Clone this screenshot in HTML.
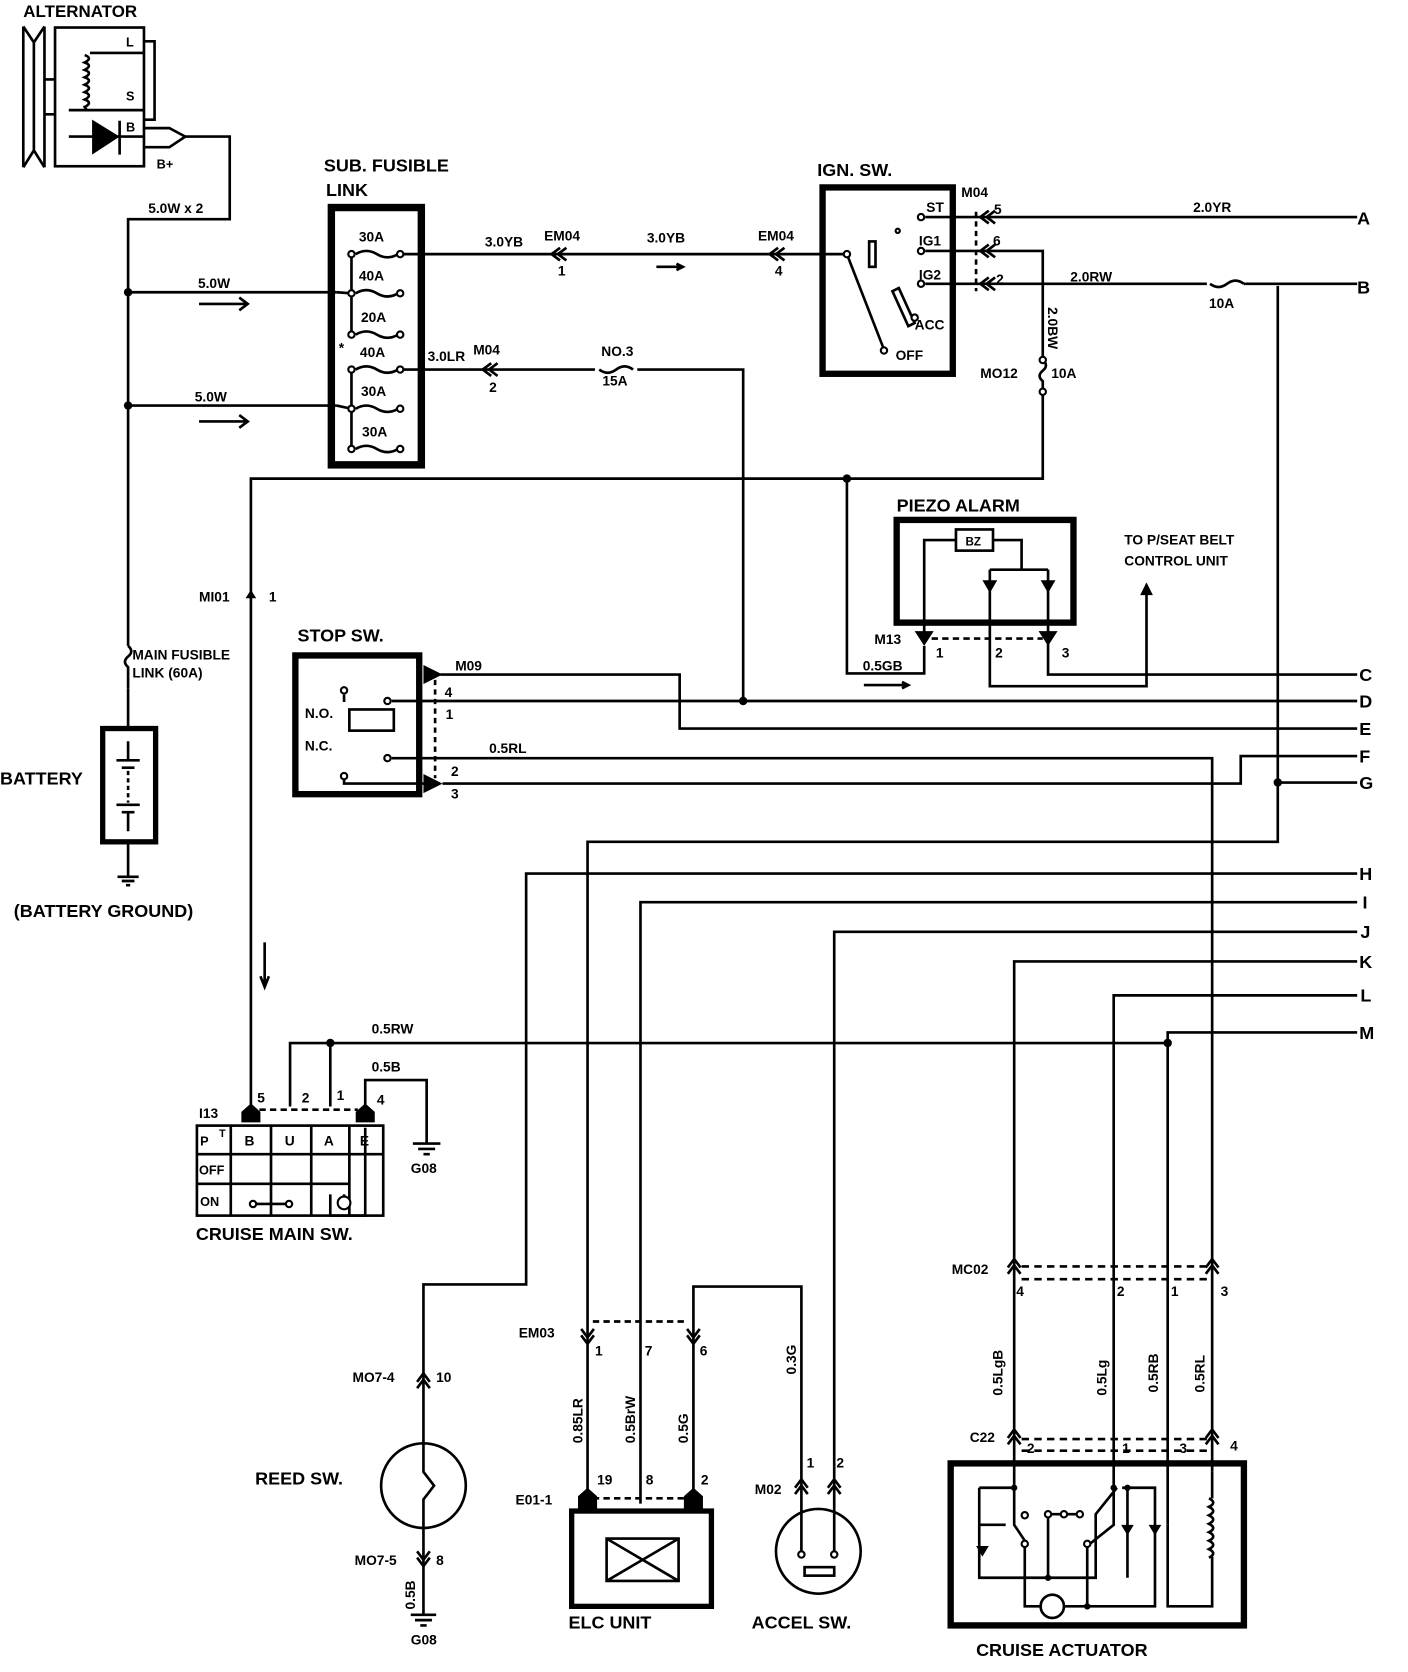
<!DOCTYPE html>
<html><head><meta charset="utf-8"><style>
html,body{margin:0;padding:0;background:#fff;}
svg{display:block;}
text{font-family:"Liberation Sans",sans-serif;font-weight:bold;fill:#000;}
</style></head><body>
<svg width="1408" height="1672" viewBox="0 0 1330 1579" preserveAspectRatio="none" xmlns="http://www.w3.org/2000/svg">
<g fill="none" stroke="#000" stroke-width="2.5">
<path d="M22 25 L22 158 M22 25 L32 40 L32 142 L22 158 M42 25 L32 40 M32 142 L42 158 M42 25 L42 158"/>
<path d="M42 75 L52 75 M42 108 L52 108"/>
<rect x="52" y="26" width="84" height="131"/>
<path d="M136 39 L146 39 L146 113 L136 113"/>
<path d="M85 50 L136 50 M65 104 L136 104"/>
<path d="M80 52 q8 3 0 7 q8 3 0 7 q8 3 0 7 q8 3 0 7 q8 3 0 7 q8 3 0 7 q8 3 0 7 L82 104"/>
<path d="M65 129 L136 129 M113 114 L113 146"/>
<path d="M137 121 L160 121 L175 129 L160 139 L137 139"/>
<path d="M175 129 L217 129 L217 207 L121 207 L121 610 M121 650 L121 688"/>
<path d="M121 610 q6 5 0 10 q-6 5 0 10 L121 650"/>
<path d="M121 276 L318 276 M121 383 L318 383"/>
<path d="M188 287 L234 287 M226 281 L234 287 L226 293 M188 398 L234 398 M226 392 L234 398 L226 404"/>
<rect x="313" y="196" width="85" height="243" stroke-width="7"/>
<path d="M332 240 L332 316 M332 349 L332 424"/>
<path d="M336 240 q10 -6 20 0 q10 6 20 0 M336 277 q10 -6 20 0 q10 6 20 0 M336 316 q10 -6 20 0 q10 6 20 0 M336 349 q10 -6 20 0 q10 6 20 0 M336 386 q10 -6 20 0 q10 6 20 0 M336 424 q10 -6 20 0 q10 6 20 0"/>
<path d="M318 276 L332 277 M318 383 L332 386"/>
<path d="M380 240 L800 240"/>
<path d="M529 234 L521 240 L529 246 M535 234 L527 240 L535 246 M735 234 L727 240 L735 246 M741 234 L733 240 L741 246"/>
<path d="M620 252 L645 252 M639 249 L645 252 L639 255"/>
<path d="M380 349 L562 349 M602 349 L702 349 L702 662"/>
<path d="M566 349 q8 6 16 0 q8 -6 16 0"/>
<path d="M464 343 L456 349 L464 355 M470 343 L462 349 L470 355"/>
<rect x="777" y="177" width="123" height="176" stroke-width="6"/>
<path d="M800 240 L835 330"/>
<rect x="821" y="228" width="6" height="24"/>
<path d="M843 275 L858 308 L864 305 L849 272 Z"/>
<path d="M874 205 L1282 205"/>
<path d="M874 237 L985 237 L985 340 M985 370 L985 452 L237 452 L237 1045"/>
<path d="M985 340 q6 5 0 10 q-6 5 0 10 L985 370"/>
<path d="M874 268 L1140 268 M1175 268 L1282 268"/>
<path d="M1143 268 q8 6 16 0 q8 -6 16 0"/>
<path d="M1207 270 L1207 795 L555 795 L555 1415"/>
<path d="M934 199 L926 205 L934 211 M940 199 L932 205 L940 211 M934 231 L926 237 L934 243 M940 231 L932 237 L940 243 M934 262 L926 268 L934 274 M940 262 L932 268 L940 274"/>
<path d="M922 200 L922 275" stroke-dasharray="5 4"/>
<rect x="847" y="491" width="167" height="97" stroke-width="6"/>
<rect x="903" y="500" width="35" height="20"/>
<path d="M873 598 L873 510 L903 510 M938 510 L965 510 L965 538 M935 538 L990 538 M935 538 L935 648 L1083 648 L1083 560 M990 538 L990 637 L1282 637"/>
<path d="M873 610 L873 636 L800 636 L800 452"/>
<path d="M880 603 L985 603" stroke-dasharray="6 4"/>
<path d="M816 647 L858 647 M852 644 L858 647 L852 650"/>
<rect x="279" y="619" width="117" height="131" stroke-width="6"/>
<rect x="330" y="670" width="42" height="20"/>
<path d="M325 656 L325 663 M325 733 L325 740 L404 740"/>
<path d="M370 662 L1282 662 M370 716 L1145 716 L1145 1190"/>
<path d="M416 637 L642 637 L642 688 L1282 688"/>
<path d="M418 740 L1172 740 L1172 714 L1282 714 M1207 739 L1282 739"/>
<path d="M411 642 L411 735" stroke-dasharray="5 4"/>
<path d="M1282 825 L497 825 L497 1213 L400 1213 L400 1363 M400 1443 L400 1525"/>
<path d="M1282 852 L605 852 L605 1420"/>
<path d="M1282 880 L788 880 L788 1385"/>
<path d="M1282 908 L958 908 L958 1400"/>
<path d="M1282 940 L1052 940 L1052 1400"/>
<path d="M1282 975 L1103 975 L1103 1440 M1103 985 L274 985 L274 1045 M312 985 L312 1045"/>
<path d="M345 1045 L345 1020 L403 1020 L403 1080"/>
<path d="M1145 1190 L1145 1390"/>
<path d="M250 890 L250 930 M246 922 L250 932 L254 922"/>
<path d="M245 1048 L338 1048" stroke-dasharray="6 4"/>
<rect x="186" y="1063" width="176" height="85"/>
<path d="M218 1063 L218 1148 M256 1063 L256 1148 M294 1063 L294 1148 M330 1063 L330 1148 M186 1090 L362 1090 M186 1118 L330 1118"/>
<path d="M242 1137 L270 1137 M325 1137 L325 1128 M312 1128 L312 1148 M312 1148 L345 1148 L345 1065"/>
<path d="M390 1080 L416 1080 M395 1085 L411 1085 M400 1090 L406 1090"/>
<circle cx="400" cy="1403" r="40"/>
<path d="M400 1363 L400 1390 L410 1403 L400 1416 L400 1443"/>
<path d="M394 1305 L400 1297 L406 1305 M394 1311 L400 1303 L406 1311 M394 1465 L400 1473 L406 1465 M394 1471 L400 1479 L406 1471"/>
<path d="M388 1525 L412 1525 M392 1530 L408 1530 M397 1535 L403 1535"/>
<rect x="540" y="1427" width="132" height="90" stroke-width="5"/>
<rect x="573" y="1453" width="68" height="40"/>
<path d="M573 1453 L641 1493 M641 1453 L573 1493"/>
<path d="M560 1415 L650 1415 M560 1248 L650 1248" stroke-dasharray="6 4"/>
<path d="M549 1255 L555 1263 L561 1255 M549 1261 L555 1269 L561 1261 M649 1255 L655 1263 L661 1255 M649 1261 L655 1269 L661 1261"/>
<path d="M655 1415 L655 1215 L757 1215 L757 1468"/>
<circle cx="773" cy="1465" r="40"/>
<path d="M788 1385 L788 1468"/>
<rect x="760" y="1480" width="28" height="8"/>
<path d="M751 1405 L757 1397 L763 1405 M751 1411 L757 1403 L763 1411 M782 1405 L788 1397 L794 1405 M782 1411 L788 1403 L794 1411"/>
<rect x="898" y="1382" width="277" height="153" stroke-width="6"/>
<path d="M952 1197 L958 1189 L964 1197 M952 1203 L958 1195 L964 1203 M1139 1197 L1145 1189 L1151 1197 M1139 1203 L1145 1195 L1151 1203 M952 1358 L958 1350 L964 1358 M952 1364 L958 1356 L964 1364 M1139 1358 L1145 1350 L1151 1358 M1139 1364 L1145 1356 L1151 1364"/>
<path d="M965 1196 L1140 1196 M965 1208 L1140 1208 M965 1359 L1140 1359 M965 1370 L1140 1370" stroke-dasharray="7 5"/>
<path d="M958 1400 L958 1440 L968 1455 M925 1405 L958 1405 M925 1405 L925 1490 L1035 1490 L1035 1430 L1055 1405 M925 1440 L950 1440" />
<path d="M990 1430 L990 1490 M988 1430 L1020 1430"/>
<path d="M968 1455 L968 1517 L983 1517 M1005 1517 L1091 1517 L1091 1405 L1060 1405 M1027 1460 L1027 1517"/>
<path d="M1052 1400 L1052 1440 L1027 1460 M1065 1405 L1065 1490"/>
<circle cx="994" cy="1517" r="11"/>
<path d="M1103 1440 L1103 1517 L1145 1517 L1145 1470 M1145 1390 L1145 1415"/>
<path d="M1142 1415 q8 4 0 8 q8 4 0 8 q8 4 0 8 q8 4 0 8 q8 4 0 8 q8 4 0 8 q8 4 0 8"/>
<rect x="97" y="688" width="50" height="107" stroke-width="5"/>
<path d="M121 795 L121 828 M111 828 L131 828 M115 832 L127 832 M119 836 L123 836"/>
<path d="M110 718 L132 718 M115 725 L127 725 M110 760 L132 760 M115 767 L127 767 M121 700 L121 718 M121 767 L121 785"/>
<path d="M121 728 L121 758" stroke-dasharray="4 3"/>
</g>
<g fill="#000">
<path d="M87 113 L113 129 L87 146 Z"/>
<circle cx="121" cy="276" r="4"/><circle cx="121" cy="383" r="4"/>
<circle cx="800" cy="452" r="4"/><circle cx="702" cy="662" r="4"/><circle cx="1207" cy="739" r="4"/>
<circle cx="312" cy="985" r="4"/><circle cx="1103" cy="985" r="4"/>
<path d="M1077 562 L1083 550 L1089 562 Z"/>
<path d="M928 548 L942 548 L935 560 Z M983 548 L997 548 L990 560 Z"/>
<path d="M864 596 L882 596 L873 610 Z M981 596 L999 596 L990 610 Z"/>
<path d="M400 628 L418 637 L400 646 Z M400 731 L418 740 L400 749 Z"/>
<path d="M228 1060 L246 1060 L246 1050 L237 1042 L228 1050 Z M336 1060 L354 1060 L354 1050 L345 1042 L336 1050 Z"/>
<path d="M546 1425 L564 1425 L564 1413 L555 1405 L546 1413 Z M646 1425 L664 1425 L664 1413 L655 1405 L646 1413 Z"/>
<path d="M922 1460 L934 1460 L928 1470 Z M1059 1440 L1071 1440 L1065 1450 Z M1085 1440 L1097 1440 L1091 1450 Z"/>
<circle cx="958" cy="1405" r="3"/><circle cx="1052" cy="1405" r="3"/><circle cx="1065" cy="1405" r="3"/><circle cx="990" cy="1490" r="3"/><circle cx="1027" cy="1517" r="3"/>
<path d="M232 565 L237 557 L242 565 Z"/>
</g>
<g fill="#fff" stroke="#000" stroke-width="2">
<circle cx="332" cy="240" r="3"/><circle cx="378" cy="240" r="3"/><circle cx="332" cy="277" r="3"/><circle cx="378" cy="277" r="3"/><circle cx="332" cy="316" r="3"/><circle cx="378" cy="316" r="3"/><circle cx="332" cy="349" r="3"/><circle cx="378" cy="349" r="3"/><circle cx="332" cy="386" r="3"/><circle cx="378" cy="386" r="3"/><circle cx="332" cy="424" r="3"/><circle cx="378" cy="424" r="3"/>
<circle cx="870" cy="205" r="3"/><circle cx="870" cy="237" r="3"/><circle cx="870" cy="268" r="3"/><circle cx="800" cy="240" r="3"/><circle cx="835" cy="331" r="3"/><circle cx="848" cy="218" r="2"/><circle cx="864" cy="300" r="3"/>
<circle cx="985" cy="340" r="3"/><circle cx="985" cy="370" r="3"/>
<circle cx="325" cy="652" r="3"/><circle cx="366" cy="662" r="3"/><circle cx="366" cy="716" r="3"/><circle cx="325" cy="733" r="3"/>
<circle cx="239" cy="1137" r="3"/><circle cx="273" cy="1137" r="3"/><circle cx="325" cy="1136" r="6"/>
<circle cx="968" cy="1431" r="3"/><circle cx="990" cy="1430" r="3"/><circle cx="1005" cy="1430" r="3"/><circle cx="1020" cy="1430" r="3"/><circle cx="1027" cy="1458" r="3"/><circle cx="968" cy="1458" r="3"/>
<circle cx="757" cy="1468" r="3"/><circle cx="788" cy="1468" r="3"/>
</g>
<g font-size="14">
<text x="22" y="16" font-size="16">ALTERNATOR</text>
<text x="119" y="44" font-size="12">L</text><text x="119" y="95" font-size="12">S</text><text x="119" y="124" font-size="12">B</text>
<text x="148" y="159" font-size="12">B+</text>
<text x="140" y="201" font-size="13">5.0W x 2</text>
<text x="187" y="272" font-size="13">5.0W</text><text x="184" y="379" font-size="13">5.0W</text>
<text x="306" y="162" font-size="17">SUB.  FUSIBLE</text><text x="308" y="185" font-size="17">LINK</text>
<text x="339" y="228" font-size="13">30A</text><text x="339" y="265" font-size="13">40A</text><text x="341" y="304" font-size="13">20A</text><text x="320" y="333" font-size="13">*</text><text x="340" y="337" font-size="13">40A</text><text x="341" y="374" font-size="13">30A</text><text x="342" y="412" font-size="13">30A</text>
<text x="458" y="233" font-size="13">3.0YB</text><text x="514" y="227" font-size="13">EM04</text><text x="527" y="260" font-size="13">1</text>
<text x="611" y="229" font-size="13">3.0YB</text><text x="716" y="227" font-size="13">EM04</text><text x="732" y="260" font-size="13">4</text>
<text x="404" y="341" font-size="13">3.0LR</text><text x="447" y="335" font-size="13">M04</text><text x="462" y="370" font-size="13">2</text>
<text x="568" y="336" font-size="13">NO.3</text><text x="569" y="364" font-size="13">15A</text>
<text x="772" y="166" font-size="17">IGN.  SW.</text>
<text x="875" y="200" font-size="13">ST</text><text x="868" y="232" font-size="13">IG1</text><text x="868" y="264" font-size="13">IG2</text><text x="864" y="311" font-size="13">ACC</text><text x="846" y="340" font-size="13">OFF</text>
<text x="908" y="186" font-size="13">M04</text><text x="939" y="202" font-size="13">5</text><text x="938" y="232" font-size="13">6</text><text x="941" y="268" font-size="13">2</text>
<text x="1127" y="200" font-size="13">2.0YR</text><text x="1011" y="266" font-size="13">2.0RW</text><text x="1142" y="291" font-size="13">10A</text>
<text x="926" y="357" font-size="13">MO12</text><text x="993" y="357" font-size="13">10A</text>
<text x="0" y="0" font-size="13" transform="translate(990,290) rotate(90)">2.0BW</text>
<text x="1282" y="212" font-size="17">A</text><text x="1282" y="277" font-size="17">B</text><text x="1284" y="643" font-size="17">C</text><text x="1284" y="668" font-size="17">D</text><text x="1284" y="694" font-size="17">E</text><text x="1284" y="720" font-size="17">F</text><text x="1284" y="745" font-size="17">G</text><text x="1284" y="831" font-size="17">H</text><text x="1287" y="858" font-size="17">I</text><text x="1285" y="886" font-size="17">J</text><text x="1284" y="914" font-size="17">K</text><text x="1285" y="946" font-size="17">L</text><text x="1284" y="981" font-size="17">M</text>
<text x="847" y="483" font-size="17">PIEZO  ALARM</text>
<text x="912" y="515" font-size="11">BZ</text>
<text x="1062" y="514" font-size="13">TO  P/SEAT  BELT</text><text x="1062" y="534" font-size="13">CONTROL  UNIT</text>
<text x="826" y="608" font-size="13">M13</text><text x="884" y="621" font-size="13">1</text><text x="940" y="621" font-size="13">2</text><text x="1003" y="621" font-size="13">3</text>
<text x="815" y="633" font-size="13">0.5GB</text>
<text x="281" y="606" font-size="17">STOP  SW.</text>
<text x="288" y="678" font-size="13">N.O.</text><text x="288" y="709" font-size="13">N.C.</text>
<text x="430" y="633" font-size="13">M09</text><text x="420" y="658" font-size="13">4</text><text x="421" y="679" font-size="13">1</text><text x="426" y="733" font-size="13">2</text><text x="426" y="754" font-size="13">3</text>
<text x="462" y="711" font-size="13">0.5RL</text>
<text x="125" y="623" font-size="13">MAIN FUSIBLE</text><text x="125" y="640" font-size="13">LINK (60A)</text>
<text x="0" y="741" font-size="17" font-weight="normal">BATTERY</text>
<text x="13" y="866" font-size="17" font-weight="normal">(BATTERY GROUND)</text>
<text x="188" y="568" font-size="13">MI01</text><text x="254" y="568" font-size="13">1</text>
<text x="351" y="976" font-size="13">0.5RW</text><text x="351" y="1012" font-size="13">0.5B</text>
<text x="243" y="1041" font-size="13">5</text><text x="285" y="1041" font-size="13">2</text><text x="318" y="1039" font-size="13">1</text><text x="356" y="1043" font-size="13">4</text>
<text x="188" y="1056" font-size="13">I13</text>
<text x="189" y="1082" font-size="12">P</text><text x="207" y="1074" font-size="10">T</text><text x="231" y="1082" font-size="13">B</text><text x="269" y="1082" font-size="13">U</text><text x="306" y="1082" font-size="13">A</text><text x="340" y="1082" font-size="13">E</text>
<text x="188" y="1109" font-size="12">OFF</text><text x="189" y="1139" font-size="12">ON</text>
<text x="185" y="1171" font-size="17">CRUISE  MAIN  SW.</text>
<text x="388" y="1108" font-size="13">G08</text>
<text x="333" y="1305" font-size="13">MO7-4</text><text x="412" y="1305" font-size="13">10</text>
<text x="241" y="1402" font-size="17">REED  SW.</text>
<text x="335" y="1478" font-size="13">MO7-5</text><text x="412" y="1478" font-size="13">8</text>
<text x="0" y="0" font-size="13" transform="translate(392,1520) rotate(-90)">0.5B</text>
<text x="388" y="1553" font-size="13">G08</text>
<text x="490" y="1263" font-size="13">EM03</text><text x="562" y="1280" font-size="13">1</text><text x="609" y="1280" font-size="13">7</text><text x="661" y="1280" font-size="13">6</text>
<text x="0" y="0" font-size="13" transform="translate(550,1363) rotate(-90)">0.85LR</text>
<text x="0" y="0" font-size="13" transform="translate(600,1363) rotate(-90)">0.5BrW</text>
<text x="0" y="0" font-size="13" transform="translate(650,1363) rotate(-90)">0.5G</text>
<text x="0" y="0" font-size="13" transform="translate(752,1298) rotate(-90)">0.3G</text>
<text x="487" y="1421" font-size="13">E01-1</text><text x="564" y="1402" font-size="13">19</text><text x="610" y="1402" font-size="13">8</text><text x="662" y="1402" font-size="13">2</text>
<text x="537" y="1538" font-size="17">ELC  UNIT</text>
<text x="713" y="1411" font-size="13">M02</text><text x="762" y="1386" font-size="13">1</text><text x="790" y="1386" font-size="13">2</text>
<text x="710" y="1538" font-size="17">ACCEL  SW.</text>
<text x="899" y="1203" font-size="13">MC02</text><text x="960" y="1224" font-size="13">4</text><text x="1055" y="1224" font-size="13">2</text><text x="1106" y="1224" font-size="13">1</text><text x="1153" y="1224" font-size="13">3</text>
<text x="0" y="0" font-size="13" transform="translate(947,1318) rotate(-90)">0.5LgB</text>
<text x="0" y="0" font-size="13" transform="translate(1045,1318) rotate(-90)">0.5Lg</text>
<text x="0" y="0" font-size="13" transform="translate(1094,1315) rotate(-90)">0.5RB</text>
<text x="0" y="0" font-size="13" transform="translate(1138,1315) rotate(-90)">0.5RL</text>
<text x="916" y="1362" font-size="13">C22</text><text x="970" y="1372" font-size="13">2</text><text x="1060" y="1372" font-size="13">1</text><text x="1114" y="1372" font-size="13">3</text><text x="1162" y="1370" font-size="13">4</text>
<text x="922" y="1564" font-size="17">CRUISE  ACTUATOR</text>
</g>
</svg>
</body></html>
